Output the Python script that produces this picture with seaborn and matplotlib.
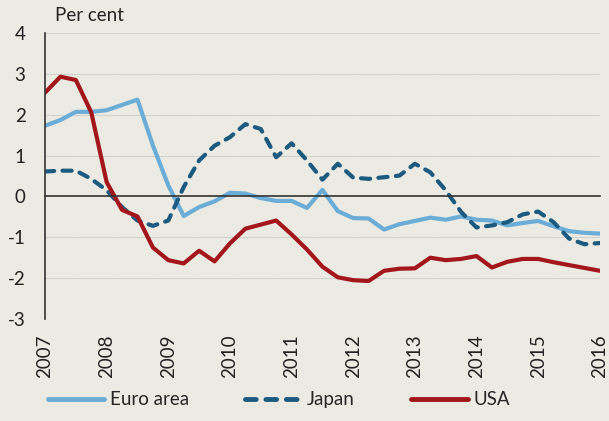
import numpy as np
import pandas as pd
import seaborn as sns
import matplotlib

matplotlib.use("Agg")
import matplotlib.pyplot as plt

# quarterly observations, 2007Q1 .. 2016Q1
quarters = np.arange(2007, 2016.01, 0.25)
years = list(range(2007, 2017))

euro_area = [1.73, 1.87, 2.07, 2.07, 2.11, 2.24, 2.37, 1.25,
             0.27, -0.48, -0.26, -0.12, 0.09, 0.07, -0.04, -0.11,
             -0.11, -0.28, 0.16, -0.36, -0.53, -0.54, -0.81, -0.68,
             -0.60, -0.52, -0.57, -0.49, -0.57, -0.59, -0.71, -0.65,
             -0.60, -0.73, -0.85, -0.89, -0.91]
japan = [0.61, 0.63, 0.63, 0.43, 0.15, -0.26, -0.59, -0.72,
         -0.59, 0.23, 0.88, 1.24, 1.45, 1.77, 1.65, 0.96,
         1.30, 0.88, 0.41, 0.80, 0.46, 0.43, 0.47, 0.51,
         0.80, 0.59, 0.15, -0.38, -0.76, -0.71, -0.63, -0.44,
         -0.37, -0.63, -1.03, -1.17, -1.14]
usa = [2.54, 2.93, 2.85, 2.06, 0.35, -0.33, -0.49, -1.25,
       -1.56, -1.64, -1.33, -1.59, -1.15, -0.79, -0.69, -0.59,
       -0.93, -1.30, -1.72, -1.98, -2.05, -2.07, -1.82, -1.77,
       -1.76, -1.50, -1.56, -1.53, -1.46, -1.74, -1.60, -1.53,
       -1.53, -1.61, -1.68, -1.75, -1.82]

series_names = ["Euro area", "Japan", "USA"]
colors = {"Euro area": "#6badd6", "Japan": "#1d5a80", "USA": "#a3171c"}
dashes = {"Euro area": "", "Japan": (2.2, 2.0), "USA": ""}

df = pd.concat([
    pd.DataFrame({"date": quarters, "value": vals, "series": name})
    for name, vals in zip(series_names, [euro_area, japan, usa])
])

bg = "#ebeae3"
sns.set_style("white")
plt.rcParams["font.family"] = ["Lato", "DejaVu Sans"]
plt.rcParams["font.size"] = 13.5
plt.rcParams["axes.unicode_minus"] = False

fig = plt.figure(figsize=(6.09, 4.21), dpi=100, facecolor=bg)
ax = fig.add_axes([0.0739, 0.2423, 0.911, 0.6793])
ax.set_facecolor(bg)

# dotted grid lines
for y in range(-3, 5):
    if y != 0:
        ax.axhline(y, color="#d0d0cb", lw=0.8, ls=(0, (1, 1)), zorder=0)

sns.lineplot(data=df, x="date", y="value", hue="series", style="series",
             palette=colors, dashes=dashes, linewidth=3, legend=False, ax=ax)
for line in ax.get_lines():
    line.set_dash_capstyle("round")

ax.set_xlim(2007, 2016)
ax.set_ylim(-3, 4)
ax.set_yticks(range(-3, 5))
ax.set_xticks(years)
ax.set_xlabel("")
ax.set_ylabel("")

for s in ["top", "right"]:
    ax.spines[s].set_visible(False)
ax.spines["left"].set_color("#333333")
ax.spines["left"].set_linewidth(1.2)
ax.spines["bottom"].set_position(("data", 0))
ax.spines["bottom"].set_color("#333333")
ax.spines["bottom"].set_linewidth(1.2)
ax.tick_params(axis="x", direction="out", length=6, width=1.2,
               color="#555555", labelbottom=False)
ax.tick_params(axis="y", direction="out", length=7, width=1.2,
               color="#555555", pad=7, labelcolor="#222222")

sec = ax.secondary_xaxis("bottom")
sec.set_xticks(years)
sec.set_xticklabels([str(y) for y in years], rotation=90, color="#222222")
sec.tick_params(length=0, pad=11)
sec.spines["bottom"].set_visible(False)

fig.text(0.09, 0.962, "Per cent", ha="left", va="center",
         fontsize=13.5, color="#222222")

handles = [plt.Line2D([], [], color=colors[n], lw=3.5,
                      solid_capstyle="round", dash_capstyle="round",
                      dashes=dashes[n] if dashes[n] else (None, None))
           for n in series_names]
fig.legend(handles, series_names, loc="lower center", ncol=3,
           bbox_to_anchor=(0.458, -0.01), frameon=False, handlelength=3.0,
           columnspacing=3.0, handletextpad=0.3, fontsize=13.5)

fig.savefig("out.png", dpi=100, facecolor=bg)
